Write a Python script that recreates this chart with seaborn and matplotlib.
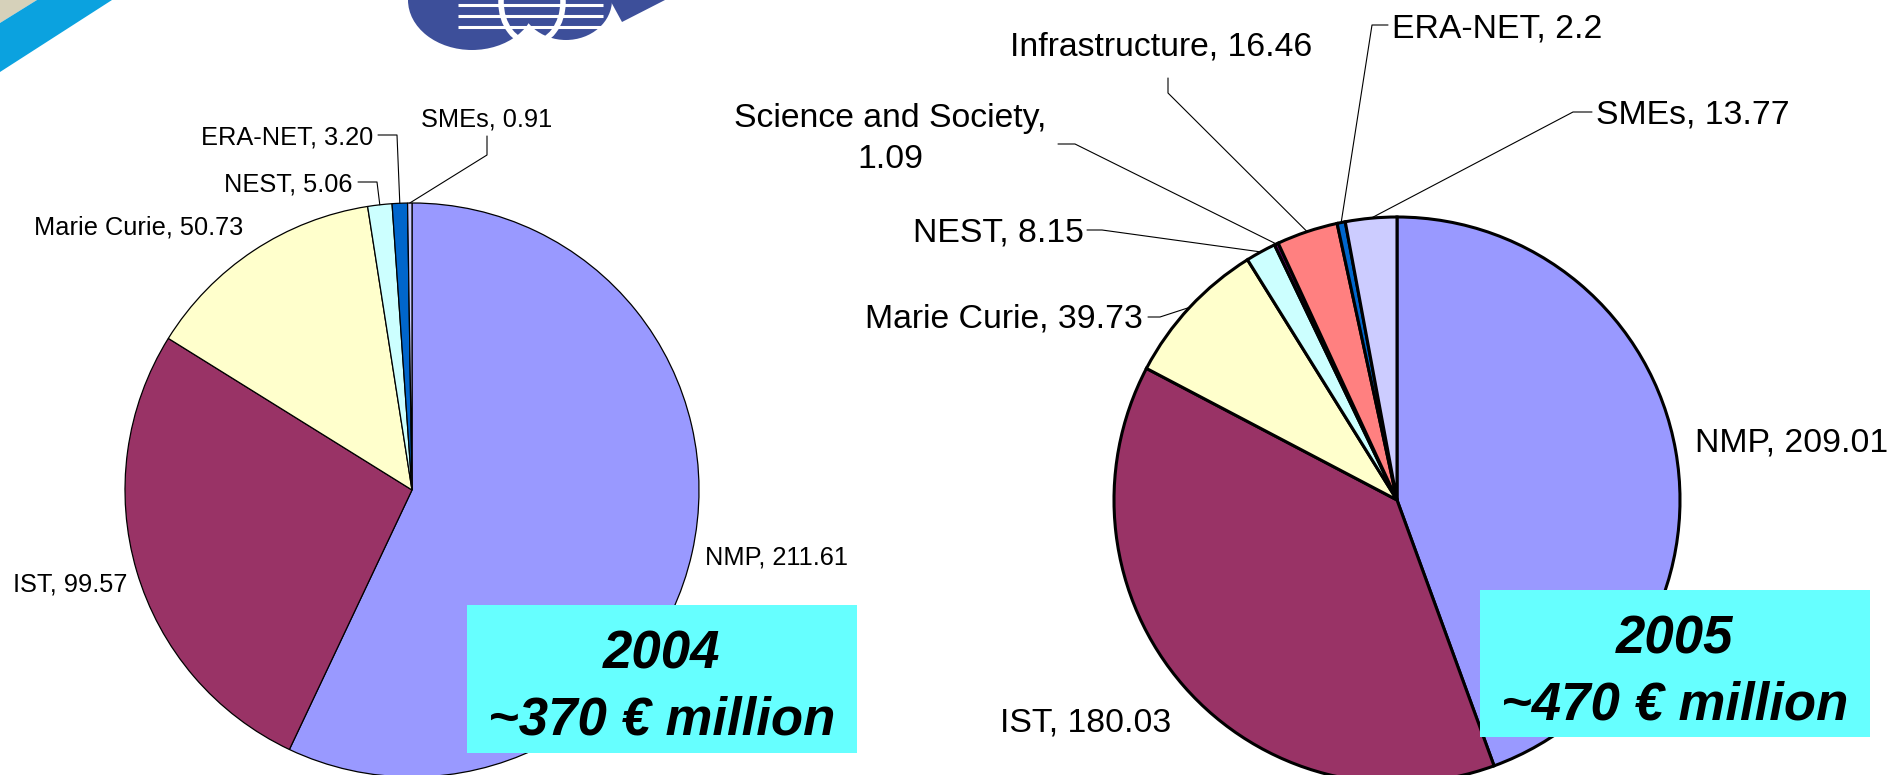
import matplotlib
matplotlib.use("Agg")
import numpy as np
import matplotlib.pyplot as plt
import seaborn as sns
from matplotlib.patches import Polygon, Ellipse, Rectangle
from matplotlib.lines import Line2D

# ---------------- data ----------------
cats_2004 = ["NMP", "IST", "Marie Curie", "NEST", "ERA-NET", "SMEs"]
vals_2004 = [211.61, 99.57, 50.73, 5.06, 3.20, 0.91]
colors_2004 = ["#9999FF", "#993366", "#FFFFCC", "#CCFFFF", "#0066CC", "#CCCCFF"]

cats_2005 = ["NMP", "IST", "Marie Curie", "NEST", "Science and Society",
             "Infrastructure", "ERA-NET", "SMEs"]
vals_2005 = [209.01, 180.03, 39.73, 8.15, 1.09, 16.46, 2.2, 13.77]
colors_2005 = ["#9999FF", "#993366", "#FFFFCC", "#CCFFFF", "#660066",
               "#FF8080", "#0066CC", "#CCCCFF"]

box_2004 = ["2004", "~370 € million"]
box_2005 = ["2005", "~470 € million"]

# ---------------- style ----------------
sns.set_theme(style="white")
plt.rcParams["font.family"] = ["Liberation Sans", "DejaVu Sans"]
plt.rcParams["text.color"] = "black"

W, H = 1901, 775
fig = plt.figure(figsize=(W / 100, H / 100), dpi=100)
fig.patch.set_facecolor("white")

PAD = 1.03


def pie_axes(cx, cy, r):
    half = r * PAD
    return fig.add_axes([(cx - half) / W, 1 - (cy + half) / H, 2 * half / W, 2 * half / H])


def draw_pie(ax, vals, colors, lw):
    wedges, _ = ax.pie(vals, colors=sns.color_palette(colors), startangle=90,
                       counterclock=False, radius=1,
                       wedgeprops=dict(edgecolor="black", linewidth=lw))
    ax.set_xlim(-PAD, PAD)
    ax.set_ylim(-PAD, PAD)
    ax.set_aspect("auto")
    ax.axis("off")
    return wedges


ax1 = pie_axes(412, 490, 287)
w1 = draw_pie(ax1, vals_2004, colors_2004, 0.9)
ax2 = pie_axes(1397, 500, 283)
w2 = draw_pie(ax2, vals_2005, colors_2005, 2.2)

# overlay in pixel coordinates (y downward)
ov = fig.add_axes([0, 0, 1, 1], zorder=5)
ov.set_xlim(0, W)
ov.set_ylim(H, 0)
ov.axis("off")
ov.patch.set_alpha(0)

# ---------------- logo decoration ----------------
ov.add_patch(Polygon([(0, 0), (37, 0), (0, 23)], closed=True, color="#D6D1BA", lw=0))
ov.add_patch(Polygon([(37, 0), (112, 0), (0, 72), (0, 23)], closed=True, color="#0BA2DF", lw=0))
ov.add_patch(Ellipse((472, 0), 128, 100, color="#3D4F9A", lw=0))
ov.add_patch(Ellipse((566, 0), 92, 80, color="#3D4F9A", lw=0))
ov.add_patch(Polygon([(610, 0), (665, 0), (622, 22)], closed=True, color="#3D4F9A", lw=0))
for yy in (5, 16, 27):
    ov.plot([458, 603], [yy, yy], color="white", lw=2.2, solid_capstyle="butt")
ov.add_patch(Ellipse((532, 2), 62, 82, fill=False, edgecolor="white", lw=4))


# ---------------- labels ----------------
def anchor(ax, wedge):
    t = np.deg2rad((wedge.theta1 + wedge.theta2) / 2)
    disp = ax.transData.transform((np.cos(t) * wedge.r, np.sin(t) * wedge.r))
    return ov.transData.inverted().transform(disp)


def label(ax, wedges, cats, vals, fmt, pos, leaders, size):
    for cat, v, w in zip(cats, vals, wedges):
        txt = f"{cat}, {v:{fmt}}"
        if cat == "Science and Society":
            txt = f"{cat},\n{v:{fmt}}"
        x, y, ha = pos[cat]
        ov.text(x, y, txt, ha=ha, va="center_baseline", fontsize=size,
                color="black", multialignment="center", linespacing=1.45)
        if cat in leaders:
            pts = list(leaders[cat]) + [tuple(anchor(ax, w))]
            xs, ys = zip(*pts)
            ov.add_line(Line2D(xs, ys, color="black", lw=0.8))


pos_2004 = {
    "NMP": (705, 555, "left"),
    "IST": (13, 582, "left"),
    "Marie Curie": (34, 225, "left"),
    "NEST": (224, 182, "left"),
    "ERA-NET": (201, 135, "left"),
    "SMEs": (421, 117, "left"),
}
lead_2004 = {
    "SMEs": [(487, 136), (487, 155)],
    "ERA-NET": [(378, 135), (397, 135)],
    "NEST": [(358, 182), (377, 182)],
}
pos_2005 = {
    "NMP": (1695, 440, "left"),
    "IST": (1000, 720, "left"),
    "Marie Curie": (865, 315, "left"),
    "NEST": (913, 230, "left"),
    "Science and Society": (890, 130, "center"),
    "Infrastructure": (1010, 43, "left"),
    "ERA-NET": (1392, 25, "left"),
    "SMEs": (1596, 112, "left"),
}
lead_2005 = {
    "Infrastructure": [(1168, 78), (1168, 93)],
    "ERA-NET": [(1388, 25), (1372, 25)],
    "SMEs": [(1592, 112), (1573, 112)],
    "Science and Society": [(1058, 144), (1075, 144)],
    "NEST": [(1087, 230), (1102, 230)],
    "Marie Curie": [(1148, 317), (1160, 317)],
}

label(ax1, w1, cats_2004, vals_2004, ".2f", pos_2004, lead_2004, 18.3)
label(ax2, w2, cats_2005, vals_2005, "g", pos_2005, lead_2005, 24.3)

# ---------------- year boxes ----------------
for (x0, y0, x1, y1), lines in (((467, 605, 857, 753), box_2004),
                                 ((1480, 590, 1870, 737), box_2005)):
    ov.add_patch(Rectangle((x0, y0), x1 - x0, y1 - y0, color="#66FFFF", lw=0, zorder=6))
    cx = (x0 + x1) / 2
    cy = (y0 + y1) / 2
    ov.text(cx, cy - 30, lines[0], ha="center", va="center_baseline", fontsize=38,
            fontweight="bold", fontstyle="italic", color="black", zorder=7)
    ov.text(cx, cy + 36, lines[1], ha="center", va="center_baseline", fontsize=38,
            fontweight="bold", fontstyle="italic", color="black", zorder=7)

fig.savefig("out.png", dpi=100, facecolor="white")
